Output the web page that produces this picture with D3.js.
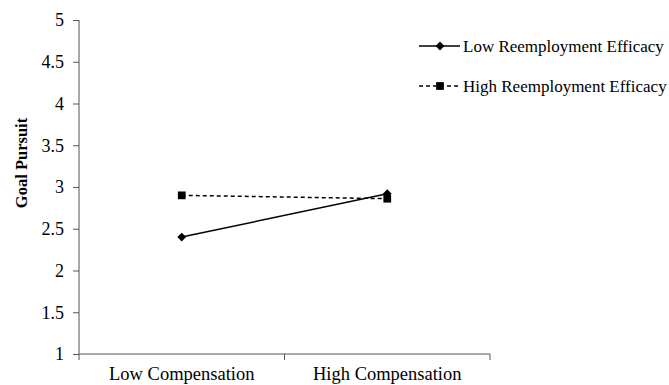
<!DOCTYPE html>
<html><head><meta charset="utf-8">
<script src="https://cdn.jsdelivr.net/npm/d3@7"></script>
<style>body{margin:0;background:#fff}svg{display:block}</style>
</head><body><svg id="c" width="669" height="385"></svg>
<script>
const categories = ["Low Compensation", "High Compensation"];
const seriesNames = ["Low Reemployment Efficacy", "High Reemployment Efficacy"];
const lowEfficacy = [2.40, 2.92];
const highEfficacy = [2.90, 2.86];
const yTicks = [1, 1.5, 2, 2.5, 3, 3.5, 4, 4.5, 5];
const FONT = "'Liberation Serif', 'Times New Roman', Times, serif";

const svg = d3.select("#c");
const x = d3.scaleBand().domain(categories).range([79, 490]);
const y = d3.scaleLinear().domain([1, 5]).range([354, 20]);

// Y axis
const ya = svg.append("g").attr("transform", "translate(79,0)")
  .call(d3.axisLeft(y).tickValues(yTicks).tickSize(6).tickPadding(9).tickFormat(d => String(d)));
ya.attr("font-family", FONT);
ya.selectAll("text").attr("font-family", FONT).attr("font-size", 18).attr("fill", "#000");
ya.selectAll("path,line").attr("stroke", "#555");
ya.select(".domain").attr("d", "M0,20V354");

// X axis
const xa = svg.append("g").attr("transform", "translate(0,354)")
  .call(d3.axisBottom(x).tickSize(0).tickPadding(13));
xa.attr("font-family", FONT);
xa.selectAll("text").attr("font-family", FONT).attr("font-size", 18.5).attr("fill", "#000");
xa.select(".domain").attr("stroke", "#555").attr("d", "M79,0H490");
const bounds = [x.range()[0], x(categories[1]), x.range()[1]];
xa.selectAll(".btick").data(bounds).enter().append("line").attr("class","btick")
  .attr("x1", d => d).attr("x2", d => d).attr("y1", 0).attr("y2", 6).attr("stroke", "#555");

// Y title
svg.append("text").attr("transform", "translate(27,163) rotate(-90)")
  .attr("text-anchor", "middle").attr("font-family", FONT).attr("font-size", 16.5)
  .attr("font-weight", "bold").text("Goal Pursuit");

const cx = d => x(d) + x.bandwidth() / 2;
const line = d3.line().x((d, i) => cx(categories[i])).y(d => y(d));

const diamond = d3.symbol().type(d3.symbolDiamond2 || d3.symbolDiamond).size(50);
const square = d3.symbol().type(d3.symbolSquare).size(60);

// Series
svg.append("path").datum(highEfficacy).attr("d", line).attr("fill", "none")
  .attr("stroke", "#000").attr("stroke-width", 1.5).attr("stroke-dasharray", "4,3");
svg.append("path").datum(lowEfficacy).attr("d", line).attr("fill", "none")
  .attr("stroke", "#000").attr("stroke-width", 1.5);
svg.selectAll(".sq").data(highEfficacy).enter().append("path")
  .attr("transform", (d, i) => `translate(${cx(categories[i])},${y(d)})`).attr("d", square).attr("fill", "#000");
svg.selectAll(".dm").data(lowEfficacy).enter().append("path")
  .attr("transform", (d, i) => `translate(${cx(categories[i])},${y(d)})`).attr("d", diamond).attr("fill", "#000");

// Legend
const leg = [{name: seriesNames[0], dash: null, sym: diamond, yy: 46},
             {name: seriesNames[1], dash: "4,3", sym: square, yy: 86}];
const lg = svg.append("g");
leg.forEach(l => {
  lg.append("line").attr("x1", 419).attr("x2", 460).attr("y1", l.yy).attr("y2", l.yy)
    .attr("stroke", "#000").attr("stroke-width", 1.5).attr("stroke-dasharray", l.dash);
  lg.append("path").attr("transform", `translate(440,${l.yy})`).attr("d", l.sym).attr("fill", "#000");
  lg.append("text").attr("x", 463).attr("y", l.yy).attr("dy", "0.35em")
    .attr("font-family", FONT).attr("font-size", 17).text(l.name);
});
</script></body></html>
